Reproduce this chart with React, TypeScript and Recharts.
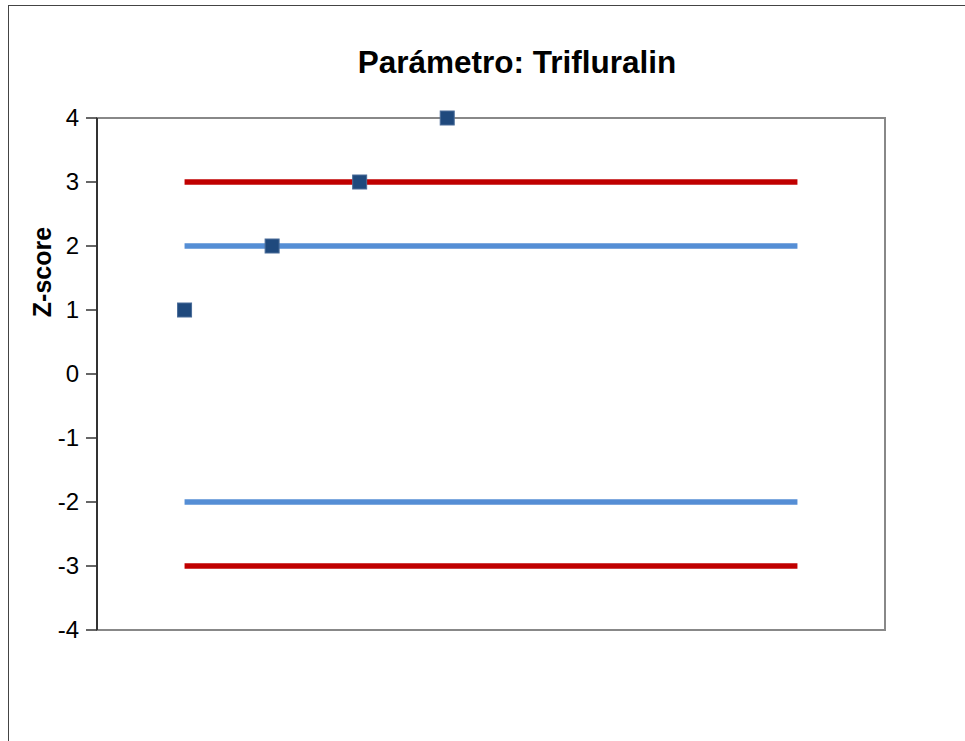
import {
  ComposedChart,
  Line,
  Scatter,
  XAxis,
  YAxis,
  ReferenceArea,
} from "recharts";

const labIds = [1, 2, 3, 4];
const zScores = [1, 2, 3, 4];
const limitSpan = [1, 8];
const warningLimit = 2;
const actionLimit = 3;
const yTicks = [-4, -3, -2, -1, 0, 1, 2, 3, 4];

const points = labIds.map((x, i) => ({ x, y: zScores[i] }));
const limitLine = (y: number) => limitSpan.map((x) => ({ x, y }));

const font = "'Liberation Sans', Arial, sans-serif";

function SquareMarker(props: any) {
  const { cx, cy } = props;
  return (
    <rect
      x={cx - 7}
      y={cy - 7}
      width={14}
      height={14}
      fill="#1F497D"
      stroke="#4a6c99"
      strokeWidth={1}
    />
  );
}

function renderYTick(props: any) {
  const { x, y, payload } = props;
  return (
    <text
      x={x}
      y={y}
      dy={8}
      textAnchor="end"
      fill="#000"
      style={{ fontSize: "24px", fontFamily: font }}
    >
      {payload.value}
    </text>
  );
}

export default function App() {
  return (
    <div
      style={{
        position: "absolute",
        left: 8,
        top: 5,
        width: 956,
        height: 735,
        borderLeft: "1px solid #444",
        borderTop: "1px solid #444",
        background: "#fff",
        overflow: "hidden",
      }}
    >
      <div
        style={{
          position: "absolute",
          left: 208,
          top: 38,
          width: 600,
          textAlign: "center",
          fontFamily: font,
          fontWeight: "bold",
          fontSize: 31.5,
          lineHeight: "36px",
          color: "#000",
        }}
      >
        Parámetro: Trifluralin
      </div>
      <div
        style={{
          position: "absolute",
          left: 33 - 60,
          top: 266 - 15,
          width: 120,
          height: 30,
          lineHeight: "30px",
          textAlign: "center",
          transform: "rotate(-90deg)",
          fontFamily: font,
          fontWeight: "bold",
          fontSize: 25,
          color: "#000",
        }}
      >
        Z-score
      </div>
      <ComposedChart
        width={956}
        height={735}
        margin={{ top: 112, right: 80, bottom: 111, left: 0 }}
        style={{ position: "absolute", left: 0, top: 0 }}
      >
        <XAxis dataKey="x" type="number" domain={[0, 9]} hide />
        <YAxis
          type="number"
          domain={[-4, 4]}
          ticks={yTicks}
          interval={0}
          width={88}
          tickSize={11}
          tickMargin={7}
          fontSize={24}
          axisLine={{ stroke: "#333", strokeWidth: 2 }}
          tickLine={{ stroke: "#333", strokeWidth: 1.5 }}
          tick={renderYTick}
        />
        <ReferenceArea
          x1={0}
          x2={9}
          y1={-4}
          y2={4}
          fill="none"
          fillOpacity={0}
          stroke="#888"
          strokeWidth={2}
        />
        <Line
          data={limitLine(actionLimit)}
          dataKey="y"
          stroke="#C00000"
          strokeWidth={5.5}
          dot={false}
          activeDot={false}
          isAnimationActive={false}
        />
        <Line
          data={limitLine(warningLimit)}
          dataKey="y"
          stroke="#558ED5"
          strokeWidth={5.5}
          dot={false}
          activeDot={false}
          isAnimationActive={false}
        />
        <Line
          data={limitLine(-warningLimit)}
          dataKey="y"
          stroke="#558ED5"
          strokeWidth={5.5}
          dot={false}
          activeDot={false}
          isAnimationActive={false}
        />
        <Line
          data={limitLine(-actionLimit)}
          dataKey="y"
          stroke="#C00000"
          strokeWidth={5.5}
          dot={false}
          activeDot={false}
          isAnimationActive={false}
        />
        <Scatter
          data={points}
          dataKey="y"
          shape={SquareMarker}
          isAnimationActive={false}
        />
      </ComposedChart>
    </div>
  );
}
